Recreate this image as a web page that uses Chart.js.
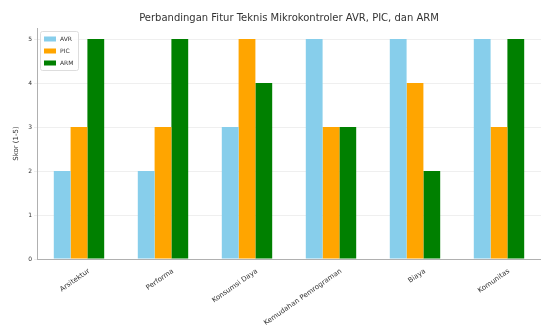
<!DOCTYPE html>
<html>
<head>
<meta charset="utf-8">
<script src="https://cdn.jsdelivr.net/npm/chart.js@4"></script>
<style>
  html, body { margin: 0; padding: 0; background: #fff; }
  #wrap { width: 541px; height: 326px; }
</style>
</head>
<body>
<div id="wrap"><canvas id="chart"></canvas></div>
<script>
// categories and scores (1-5) per microcontroller family
const fitur = ['Arsitektur', 'Performa', 'Konsumsi Daya', 'Kemudahan Pemrograman', 'Biaya', 'Komunitas'];
const skorAVR = [2, 2, 3, 5, 5, 5];
const skorPIC = [3, 3, 5, 3, 4, 3];
const skorARM = [5, 5, 4, 3, 2, 5];
const yTicks = [0, 1, 2, 3, 4, 5];

const fontFamily = 'DejaVu Sans, sans-serif';

// matplotlib-style legend in the upper left corner of the plot
const cornerLegend = {
    id: 'cornerLegend',
    afterDraw(chart) {
        const ctx = chart.ctx;
        const area = chart.chartArea;
        const sets = chart.data.datasets;
        const x0 = area.left + 3;
        const y0 = area.top + 3;
        const rowH = 12;
        ctx.save();
        ctx.fillStyle = 'rgba(255,255,255,0.8)';
        ctx.strokeStyle = '#dddddd';
        ctx.lineWidth = 1;
        ctx.beginPath();
        ctx.roundRect(x0 + 0.5, y0 + 0.5, 38, sets.length * rowH + 3, 2);
        ctx.fill();
        ctx.stroke();
        ctx.font = '6px ' + fontFamily;
        ctx.textBaseline = 'middle';
        sets.forEach((ds, i) => {
            const cy = y0 + 8 + i * rowH;
            ctx.fillStyle = ds.backgroundColor;
            ctx.fillRect(x0 + 4, cy - 2.5, 12, 5);
            ctx.fillStyle = '#333';
            ctx.fillText(ds.label, x0 + 20, cy);
        });
        ctx.restore();
    }
};

new Chart(document.getElementById('chart'), {
    type: 'bar',
    data: {
        labels: fitur,
        datasets: [
            { label: 'AVR', data: skorAVR, backgroundColor: '#87CEEB' },
            { label: 'PIC', data: skorPIC, backgroundColor: '#FFA500' },
            { label: 'ARM', data: skorARM, backgroundColor: '#008000' }
        ]
    },
    options: {
        responsive: true,
        maintainAspectRatio: false,
        animation: false,
        datasets: {
            bar: { categoryPercentage: 0.6, barPercentage: 1.0 }
        },
        layout: { padding: { left: 10, right: 0, top: 0, bottom: 0 } },
        plugins: {
            title: {
                display: true,
                fullSize: false,
                text: 'Perbandingan Fitur Teknis Mikrokontroler AVR, PIC, dan ARM',
                color: '#333',
                font: { family: fontFamily, size: 10, weight: 'normal' },
                padding: { top: 12, bottom: 4 }
            },
            legend: { display: false },
            tooltip: { enabled: false }
        },
        scales: {
            x: {
                grid: { display: false },
                border: { color: '#b0b0b0' },
                ticks: {
                    color: '#333',
                    font: { family: fontFamily, size: 7 },
                    maxRotation: 35,
                    minRotation: 35,
                    autoSkip: false,
                    padding: 0,
                    labelOffset: 10
                },
                afterFit(scale) { scale.height = 67; }
            },
            y: {
                min: 0,
                max: 5.25,
                afterBuildTicks(scale) {
                    scale.ticks = yTicks.map(v => ({ value: v }));
                },
                grid: { color: '#efefef', drawTicks: true, tickLength: 3 },
                border: { color: '#b0b0b0' },
                ticks: {
                    color: '#333',
                    font: { family: fontFamily, size: 6 },
                    padding: 2
                },
                title: {
                    display: true,
                    text: 'Skor (1-5)',
                    color: '#333',
                    font: { family: fontFamily, size: 7 },
                    padding: 2
                },
                afterFit(scale) { scale.width = 27; }
            }
        }
    },
    plugins: [cornerLegend]
});
</script>
</body>
</html>
